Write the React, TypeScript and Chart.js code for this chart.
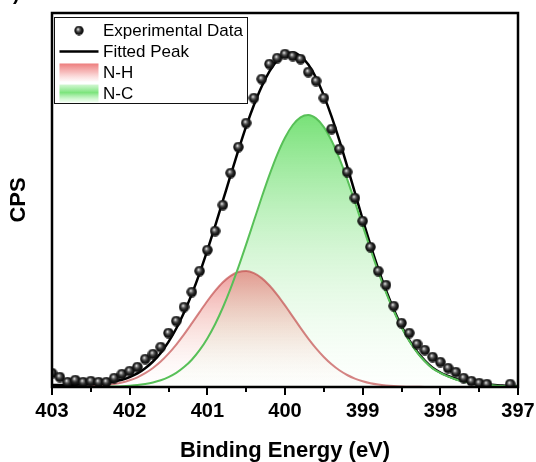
import React, { useEffect, useRef } from "react";
import { Chart, registerables } from "chart.js";

Chart.register(...registerables);

// Binding energy grid for the fitted curves (eV)
const energy = [
  403.0, 402.9, 402.8, 402.7, 402.6, 402.5, 402.4, 402.3, 402.2, 402.1,
  402.0, 401.9, 401.8, 401.7, 401.6, 401.5, 401.4, 401.3, 401.2, 401.1,
  401.0, 400.9, 400.8, 400.7, 400.6, 400.5, 400.4, 400.3, 400.2, 400.1,
  400.0, 399.9, 399.8, 399.7, 399.6, 399.5, 399.4, 399.3, 399.2, 399.1,
  399.0, 398.9, 398.8, 398.7, 398.6, 398.5, 398.4, 398.3, 398.2, 398.1,
  398.0, 397.9, 397.8, 397.7, 397.6, 397.5, 397.4, 397.3, 397.2, 397.1,
  397.0,
];

// Experimental data
const expEnergy = [
  403.0, 402.9, 402.8, 402.7, 402.6, 402.5, 402.4, 402.3, 402.2, 402.1,
  402.0, 401.9, 401.8, 401.7, 401.6, 401.5, 401.4, 401.3, 401.2, 401.1,
  401.0, 400.9, 400.8, 400.7, 400.6, 400.5, 400.4, 400.3, 400.2, 400.1,
  400.0, 399.9, 399.8, 399.7, 399.6, 399.5, 399.4, 399.3, 399.2, 399.1,
  399.0, 398.9, 398.8, 398.7, 398.6, 398.5, 398.4, 398.3, 398.2, 398.1,
  398.0, 397.9, 397.8, 397.7, 397.6, 397.5, 397.4, 397.1,
];
const expCounts = [
  14, 10, 5, 7, 5, 6, 5, 5, 9, 13,
  16, 20, 28, 33, 40, 54, 66, 80, 95, 116,
  137, 156, 182, 214, 240, 264, 289, 308, 323, 329,
  333, 331, 328, 315, 306, 289, 258, 238, 215, 189,
  166, 140, 116, 102, 81, 64, 54, 43, 37, 30,
  25, 19, 15, 9, 6, 4, 3, 3,
];

// Fitted envelope
const fitCounts = [
  2.0, 2.1, 2.1, 2.2, 2.4, 2.8, 3.3, 4.1, 5.4, 7.2,
  9.9, 13.6, 18.8, 25.5, 34.1, 45.2, 58.5, 74.5, 92.9, 113.7,
  136.6, 160.9, 186.3, 211.8, 236.8, 260.6, 282.0, 300.6, 315.6, 326.6,
  332.9, 334.4, 330.8, 322.4, 309.2, 291.4, 270.4, 246.6, 220.8, 194.4,
  167.7, 142.2, 118.4, 96.7, 77.5, 60.9, 46.8, 35.4, 26.3, 19.2,
  14.5, 11.0, 8.0, 6.0, 4.5, 3.5, 2.5, 2.0, 1.5, 1.2,
  1.0,
];

// N-H component
const nhCounts = [
  0.0, 0.1, 0.1, 0.2, 0.4, 0.7, 1.2, 1.9, 3.0, 4.5,
  6.7, 9.7, 13.8, 19.0, 25.4, 33.3, 42.4, 52.6, 63.6, 74.9,
  86.0, 96.1, 104.8, 111.2, 115.0, 116.0, 113.8, 108.9, 101.5, 92.2,
  81.6, 70.4, 59.1, 48.4, 38.6, 30.0, 22.7, 16.7, 12.0, 8.4,
  5.8, 3.8, 2.5, 1.6, 1.0, 0.6, 0.3, 0.2, 0.1, 0.1,
  0, 0, 0, 0, 0, 0, 0, 0, 0, 0,
  0,
];

// N-C component
const ncCounts = [
  0, 0, 0, 0, 0, 0.1, 0.1, 0.2, 0.4, 0.7,
  1.2, 1.9, 3.0, 4.5, 6.7, 9.9, 14.1, 19.9, 27.3, 36.8,
  48.6, 62.8, 79.5, 98.6, 119.8, 142.6, 166.2, 189.7, 212.1, 232.4,
  249.3, 262.0, 269.7, 272.0, 268.6, 259.9, 246.2, 228.6, 207.8, 185.0,
  161.4, 137.9, 115.4, 94.6, 76.0, 59.8, 46.0, 34.7, 25.7, 18.6,
  14.0, 10.5, 7.5, 5.5, 4.0, 3.0, 2.0, 1.5, 1.0, 0.7,
  0.5,
];

const xTicks = [403, 402, 401, 400, 399, 398, 397];
const legendLabels = ["Experimental Data", "Fitted Peak", "N-H", "N-C"];

const FONT = "'Liberation Sans', Arial, sans-serif";

function makeSphere(size: number): HTMLCanvasElement {
  const c = document.createElement("canvas");
  c.width = size;
  c.height = size;
  const g = c.getContext("2d")!;
  const r = size / 2;
  const grad = g.createRadialGradient(r * 0.8, r * 0.75, 0.3, r, r, r);
  grad.addColorStop(0, "#eeeeee");
  grad.addColorStop(0.22, "#7a7a7a");
  grad.addColorStop(0.55, "#222222");
  grad.addColorStop(1, "#030303");
  g.fillStyle = grad;
  g.beginPath();
  g.arc(r, r, r - 0.3, 0, Math.PI * 2);
  g.fill();
  return c;
}

export default function App() {
  const ref = useRef<HTMLCanvasElement | null>(null);

  useEffect(() => {
    const canvas = ref.current;
    if (!canvas) return;
    const sphere = makeSphere(11);
    const legendSphere = makeSphere(10);

    const ncPeak = Math.max(...ncCounts);
    const nhPeak = Math.max(...nhCounts);

    const toXY = (xs: number[], ys: number[]) => xs.map((x, i) => ({ x, y: ys[i] }));

    const frame = {
      id: "frameAndTicks",
      afterDatasetsDraw(chart: any) {
        const { ctx, chartArea, scales } = chart;
        const { left, right, top, bottom } = chartArea;
        ctx.save();
        ctx.strokeStyle = "#000";
        ctx.lineWidth = 2.5;
        ctx.strokeRect(left, top, right - left, bottom - top);
        ctx.lineWidth = 2;
        for (let v = 397; v <= 403.001; v += 0.5) {
          const px = Math.round(scales.x.getPixelForValue(v));
          const major = Math.abs(v - Math.round(v)) < 1e-6;
          ctx.beginPath();
          ctx.moveTo(px, bottom);
          ctx.lineTo(px, bottom + (major ? 8 : 5));
          ctx.stroke();
        }
        ctx.restore();
      },
      afterDraw(chart: any) {
        const { ctx, chartArea } = chart;
        const bx = chartArea.left + 2.5;
        const by = chartArea.top + 4.5;
        const bw = 193;
        const bh = 86;
        ctx.save();
        ctx.fillStyle = "#fff";
        ctx.fillRect(bx, by, bw, bh);
        ctx.strokeStyle = "#111";
        ctx.lineWidth = 1;
        ctx.strokeRect(bx, by, bw, bh);

        const symX = bx + 5;
        const symW = 39;
        const textX = bx + 48.5;
        const rowY = [by + 13, by + 34, by + 55, by + 76];

        ctx.drawImage(legendSphere, symX + symW / 2 - 5, rowY[0] - 5, 10, 10);
        ctx.strokeStyle = "#000";
        ctx.lineWidth = 2.5;
        ctx.beginPath();
        ctx.moveTo(symX, rowY[1]);
        ctx.lineTo(symX + symW, rowY[1]);
        ctx.stroke();
        let g = ctx.createLinearGradient(0, rowY[2] - 9, 0, rowY[2] + 9);
        g.addColorStop(0, "rgba(235,110,110,0.9)");
        g.addColorStop(0.5, "rgba(245,175,175,0.8)");
        g.addColorStop(1, "rgba(255,245,245,0.6)");
        ctx.fillStyle = g;
        ctx.fillRect(symX, rowY[2] - 9, symW, 18);
        g = ctx.createLinearGradient(0, rowY[3] - 9, 0, rowY[3] + 9);
        g.addColorStop(0, "rgba(200,245,200,0.8)");
        g.addColorStop(0.45, "rgba(110,225,110,0.9)");
        g.addColorStop(1, "rgba(235,255,235,0.6)");
        ctx.fillStyle = g;
        ctx.fillRect(symX, rowY[3] - 9, symW, 18);

        ctx.fillStyle = "#000";
        ctx.font = `17px ${FONT}`;
        ctx.textBaseline = "middle";
        ctx.textAlign = "left";
        legendLabels.forEach((t, i) => ctx.fillText(t, textX, rowY[i] + 0.5));

        ctx.font = `bold 20px ${FONT}`;
        ctx.textBaseline = "alphabetic";
        ctx.fillText(")", 13, -0.5);
        ctx.restore();
      },
    };

    const chart = new Chart(canvas, {
      type: "line",
      data: {
        datasets: [
          {
            label: legendLabels[0],
            data: toXY(expEnergy, expCounts),
            showLine: false,
            pointStyle: sphere as any,
            pointRadius: 5.5,
            order: 0,
          },
          {
            label: "N-C line",
            data: toXY(energy, ncCounts),
            borderColor: "rgb(88,192,88)",
            borderWidth: 2,
            pointRadius: 0,
            fill: false,
            cubicInterpolationMode: "monotone",
            order: 1,
          },
          {
            label: legendLabels[1],
            data: toXY(energy, fitCounts),
            borderColor: "#000",
            borderWidth: 2.5,
            pointRadius: 0,
            fill: false,
            cubicInterpolationMode: "monotone",
            order: 2,
          },
          {
            label: legendLabels[2],
            data: toXY(energy, nhCounts),
            borderColor: "rgba(195,80,80,0.7)",
            borderWidth: 2,
            pointRadius: 0,
            fill: "origin",
            backgroundColor: (c: any) => {
              const { chart } = c;
              const area = chart.chartArea;
              if (!area) return "transparent";
              const yTop = chart.scales.y.getPixelForValue(nhPeak);
              const gr = chart.ctx.createLinearGradient(0, yTop, 0, area.bottom);
              gr.addColorStop(0, "rgba(228,95,95,0.62)");
              gr.addColorStop(0.5, "rgba(240,170,160,0.35)");
              gr.addColorStop(1, "rgba(255,240,240,0.05)");
              return gr;
            },
            cubicInterpolationMode: "monotone",
            order: 3,
          },
          {
            label: legendLabels[3],
            data: toXY(energy, ncCounts),
            borderWidth: 0,
            pointRadius: 0,
            fill: "origin",
            backgroundColor: (c: any) => {
              const { chart } = c;
              const area = chart.chartArea;
              if (!area) return "transparent";
              const yTop = chart.scales.y.getPixelForValue(ncPeak);
              const gr = chart.ctx.createLinearGradient(0, yTop, 0, area.bottom);
              gr.addColorStop(0, "rgba(105,222,105,0.9)");
              gr.addColorStop(0.5, "rgba(185,240,185,0.6)");
              gr.addColorStop(1, "rgba(245,255,245,0.2)");
              return gr;
            },
            cubicInterpolationMode: "monotone",
            order: 4,
          },
        ],
      },
      options: {
        responsive: false,
        animation: false,
        devicePixelRatio: 1,
        events: [],
        layout: { padding: { top: 13, right: 18, left: 0, bottom: 0 } },
        plugins: { legend: { display: false }, tooltip: { enabled: false } },
        scales: {
          x: {
            type: "linear",
            reverse: true,
            min: 397,
            max: 403,
            afterBuildTicks: (s: any) => {
              s.ticks = xTicks.map((v) => ({ value: v }));
            },
            ticks: {
              color: "#000",
              font: { family: FONT, size: 20, weight: "bold" },
              padding: 12,
              maxRotation: 0,
              autoSkip: false,
            },
            grid: { display: false, drawTicks: false },
            border: { display: false },
            title: {
              display: true,
              text: "Binding Energy (eV)",
              color: "#000",
              font: { family: FONT, size: 22, weight: "bold", lineHeight: 1 },
              padding: { top: 0, bottom: 0 },
            },
            afterFit: (s: any) => {
              s.height = 75;
              s.paddingLeft = 0;
              s.paddingRight = 0;
            },
          },
          y: {
            min: 0,
            max: 374,
            ticks: { display: false },
            grid: { display: false, drawTicks: false },
            border: { display: false },
            title: {
              display: true,
              text: "CPS",
              color: "#000",
              font: { family: FONT, size: 22, weight: "bold", lineHeight: 1 },
              padding: { top: 8, bottom: 0 },
            },
            afterFit: (s: any) => {
              s.width = 52;
            },
          },
        },
      },
      plugins: [frame],
    } as any);

    return () => chart.destroy();
  }, []);

  return (
    <div style={{ position: "fixed", left: 0, top: 0, width: 536, height: 462, background: "#fff" }}>
      <canvas ref={ref} width={536} height={462} style={{ display: "block" }} />
    </div>
  );
}
